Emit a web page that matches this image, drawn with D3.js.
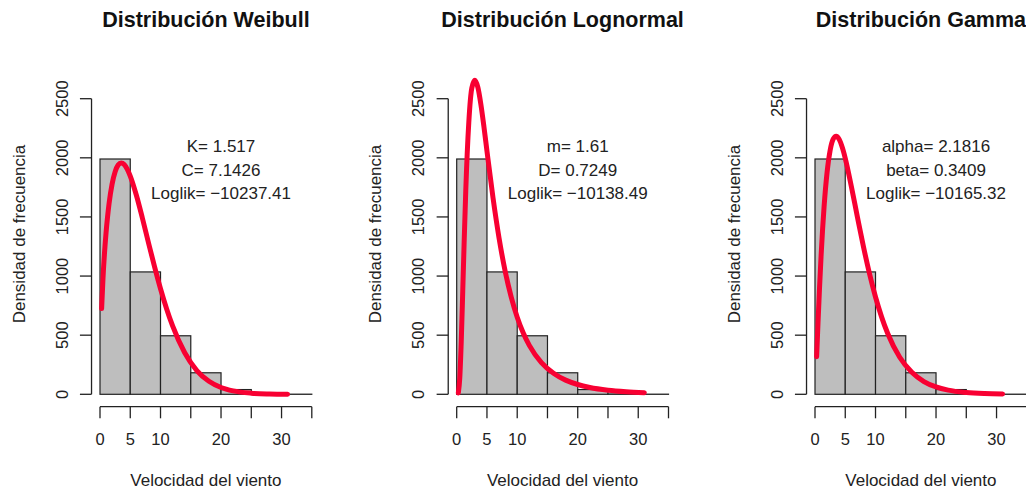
<!DOCTYPE html>
<html>
<head>
<meta charset="utf-8">
<script src="https://cdn.jsdelivr.net/npm/d3@7"></script>
<style>
  body { margin: 0; background: #fff; }
  svg { display: block; font-family: "Liberation Sans", Arial, sans-serif; }
</style>
</head>
<body>
<script>
// histogram (same for the three panels)
var breaks = [0, 5, 10, 15, 20, 25, 30, 35];
var counts = [1990, 1035, 495, 182, 40, 3, 1];

var xTicks = [0, 5, 10, 15, 20, 25, 30, 35];
var xLabels = [0, 5, 10, 20, 30];
var yTicks = [0, 500, 1000, 1500, 2000, 2500];

// fitted curves
var curveX = [0.27, 0.5, 0.75, 1, 1.25, 1.5, 2, 2.5, 3, 3.5, 4, 4.5, 5, 6, 7, 8, 9, 10, 11, 12, 14, 16, 18, 20, 22, 25, 28, 31];
var weibullY = [725, 987, 1199, 1366, 1502, 1614, 1779, 1883, 1939, 1957, 1944, 1904, 1845, 1685, 1491, 1284, 1082, 893, 724, 578, 351, 201, 110, 57.5, 28.8, 9.4, 2.9, 0.8];
var lognormalY = [11.5, 132, 446, 874, 1320, 1725, 2300, 2590, 2655, 2595, 2450, 2263, 2058, 1662, 1321, 1043, 824, 652, 518, 414, 268, 178, 120, 83, 58, 35, 22, 14];
var gammaY = [318, 609, 903, 1165, 1393, 1586, 1879, 2063, 2158, 2183, 2156, 2089, 1996, 1760, 1502, 1250, 1022, 823, 655, 516, 313, 186, 108, 62, 35, 15, 6, 2.4];

var titles = ["Distribución Weibull", "Distribución Lognormal", "Distribución Gamma"];
var paramText = [
    ["K= 1.517", "C= 7.1426", "Loglik= \u221210237.41"],
    ["m= 1.61", "D= 0.7249", "Loglik= \u221210138.49"],
    ["alpha= 2.1816", "beta= 0.3409", "Loglik= \u221210165.32"]
];
var textY = [2100, 1900, 1700];
var textX = 20;
var curves = [weibullY, lognormalY, gammaY];

var width = 1026;
var height = 489;
var panelX0 = [100, 456.7, 815];   // pixel where x = 0 sits in each panel
var xSpan = 211.8;                 // pixels for 0..35

var svg = d3.select("body")
            .append("svg")
            .attr("width", width)
            .attr("height", height);

svg.append("rect").attr("width", width).attr("height", height).attr("fill", "#fff");

var yScale = d3.scaleLinear()
               .domain([0, 2500])
               .range([394.3, 98.7]);

titles.forEach(function(title, i) {
    var x0 = panelX0[i];
    var xScale = d3.scaleLinear()
                   .domain([0, 35])
                   .range([x0, x0 + xSpan]);
    var axisX = x0 - 0.04 * xSpan;
    var g = svg.append("g");

    // bars
    g.selectAll("rect.bar")
     .data(counts)
     .enter()
     .append("rect")
     .attr("class", "bar")
     .attr("x", function(d, j) { return xScale(breaks[j]); })
     .attr("width", function(d, j) { return xScale(breaks[j + 1]) - xScale(breaks[j]); })
     .attr("y", function(d) { return yScale(d); })
     .attr("height", function(d) { return yScale(0) - yScale(d); })
     .attr("fill", "#bebebe")
     .attr("stroke", "#222")
     .attr("stroke-width", 1.2);

    // fitted density
    var line = d3.line()
                 .x(function(d) { return xScale(d[0]); })
                 .y(function(d) { return yScale(d[1]); })
                 .curve(d3.curveMonotoneX);
    var pts = curveX.map(function(x, j) { return [x, curves[i][j]]; });
    g.append("path")
     .attr("d", line(pts))
     .attr("fill", "none")
     .attr("stroke", "#f80032")
     .attr("stroke-width", 5)
     .attr("stroke-linecap", "round")
     .attr("stroke-linejoin", "round");

    // x axis, R style (detached below the plot)
    var axisY = 406.7;
    g.append("line")
     .attr("x1", xScale(0)).attr("x2", xScale(35))
     .attr("y1", axisY).attr("y2", axisY)
     .attr("stroke", "#222").attr("stroke-width", 1.3);
    g.selectAll("line.xt")
     .data(xTicks)
     .enter()
     .append("line")
     .attr("class", "xt")
     .attr("x1", function(d) { return xScale(d); })
     .attr("x2", function(d) { return xScale(d); })
     .attr("y1", axisY).attr("y2", axisY + 11.6)
     .attr("stroke", "#222").attr("stroke-width", 1.3);
    g.selectAll("text.xl")
     .data(xLabels)
     .enter()
     .append("text")
     .attr("class", "xl")
     .attr("x", function(d) { return xScale(d); })
     .attr("y", 444.5)
     .attr("text-anchor", "middle")
     .attr("font-size", 16.5)
     .attr("fill", "#222")
     .text(function(d) { return d; });

    // y axis
    g.append("line")
     .attr("x1", axisX).attr("x2", axisX)
     .attr("y1", yScale(0)).attr("y2", yScale(2500))
     .attr("stroke", "#222").attr("stroke-width", 1.3);
    g.selectAll("line.yt")
     .data(yTicks)
     .enter()
     .append("line")
     .attr("class", "yt")
     .attr("x1", axisX - 11.6).attr("x2", axisX)
     .attr("y1", function(d) { return yScale(d); })
     .attr("y2", function(d) { return yScale(d); })
     .attr("stroke", "#222").attr("stroke-width", 1.3);
    g.selectAll("text.yl")
     .data(yTicks)
     .enter()
     .append("text")
     .attr("class", "yl")
     .attr("transform", function(d) { return "translate(" + (axisX - 24) + "," + yScale(d) + ") rotate(-90)"; })
     .attr("text-anchor", "middle")
     .attr("font-size", 16.5)
     .attr("fill", "#222")
     .text(function(d) { return d; });

    // axis titles
    var cx = (axisX + x0 + xSpan + 0.04 * xSpan) / 2;
    g.append("text")
     .attr("x", cx)
     .attr("y", 486)
     .attr("text-anchor", "middle")
     .attr("font-size", 17)
     .attr("fill", "#222")
     .text("Velocidad del viento");
    g.append("text")
     .attr("transform", "translate(" + (axisX - 67) + ",234) rotate(-90)")
     .attr("text-anchor", "middle")
     .attr("font-size", 17)
     .attr("fill", "#222")
     .text("Densidad de frecuencia");

    // title
    g.append("text")
     .attr("x", cx)
     .attr("y", 26.7)
     .attr("text-anchor", "middle")
     .attr("font-size", 21.5)
     .attr("font-weight", "bold")
     .attr("fill", "#111")
     .text(title);

    // parameters
    g.selectAll("text.par")
     .data(paramText[i])
     .enter()
     .append("text")
     .attr("class", "par")
     .attr("x", xScale(textX))
     .attr("y", function(d, j) { return yScale(textY[j]); })
     .attr("dy", "0.35em")
     .attr("text-anchor", "middle")
     .attr("font-size", 17)
     .attr("fill", "#222")
     .text(function(d) { return d; });
});
</script>
</body>
</html>
